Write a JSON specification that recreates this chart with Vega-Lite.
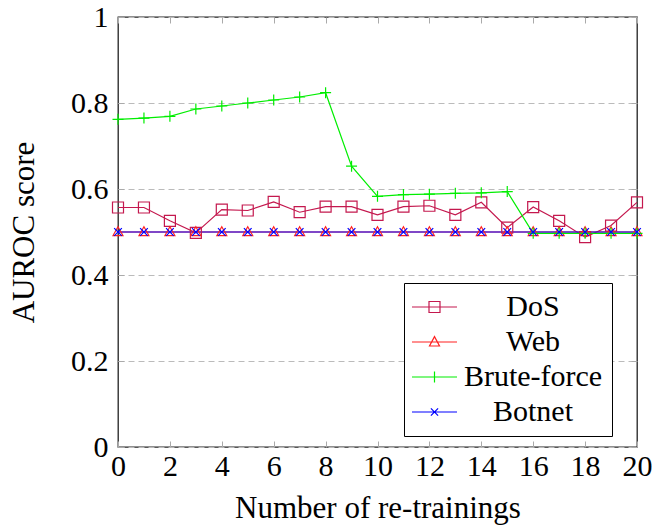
{
  "$schema": "https://vega.github.io/schema/vega-lite/v6.json",
  "width": 519,
  "height": 430,
  "autosize": {"type": "none"},
  "padding": {"left": 118, "top": 17, "right": 15, "bottom": 78},
  "background": "white",
  "config": {
    "font": "Liberation Serif, DejaVu Serif, serif",
    "view": {"stroke": "#222222", "strokeWidth": 1.3},
    "axis": {"labelFont": "Liberation Serif, DejaVu Serif, serif", "titleFont": "Liberation Serif, DejaVu Serif, serif", "labelFontSize": 30, "titleFontSize": 31, "labelColor": "black", "titleColor": "black", "titleFontWeight": "normal", "domain": false, "tickSize": -6, "tickColor": "#aaaaaa", "labelFlush": false},
    "legend": {"labelFont": "Liberation Serif, DejaVu Serif, serif"}
  },
  "data": {"values": [
    {"x":0,"series":"DoS","y":0.557},{"x":1,"series":"DoS","y":0.557},{"x":2,"series":"DoS","y":0.526},{"x":3,"series":"DoS","y":0.498},{"x":4,"series":"DoS","y":0.552},{"x":5,"series":"DoS","y":0.550},{"x":6,"series":"DoS","y":0.570},{"x":7,"series":"DoS","y":0.546},{"x":8,"series":"DoS","y":0.559},{"x":9,"series":"DoS","y":0.559},{"x":10,"series":"DoS","y":0.540},{"x":11,"series":"DoS","y":0.559},{"x":12,"series":"DoS","y":0.561},{"x":13,"series":"DoS","y":0.540},{"x":14,"series":"DoS","y":0.569},{"x":15,"series":"DoS","y":0.510},{"x":16,"series":"DoS","y":0.558},{"x":17,"series":"DoS","y":0.526},{"x":18,"series":"DoS","y":0.488},{"x":19,"series":"DoS","y":0.515},{"x":20,"series":"DoS","y":0.569},
    {"x":0,"series":"Web","y":0.5},{"x":1,"series":"Web","y":0.5},{"x":2,"series":"Web","y":0.5},{"x":3,"series":"Web","y":0.5},{"x":4,"series":"Web","y":0.5},{"x":5,"series":"Web","y":0.5},{"x":6,"series":"Web","y":0.5},{"x":7,"series":"Web","y":0.5},{"x":8,"series":"Web","y":0.5},{"x":9,"series":"Web","y":0.5},{"x":10,"series":"Web","y":0.5},{"x":11,"series":"Web","y":0.5},{"x":12,"series":"Web","y":0.5},{"x":13,"series":"Web","y":0.5},{"x":14,"series":"Web","y":0.5},{"x":15,"series":"Web","y":0.5},{"x":16,"series":"Web","y":0.5},{"x":17,"series":"Web","y":0.5},{"x":18,"series":"Web","y":0.5},{"x":19,"series":"Web","y":0.5},{"x":20,"series":"Web","y":0.5},
    {"x":0,"series":"Brute-force","y":0.762},{"x":1,"series":"Brute-force","y":0.765},{"x":2,"series":"Brute-force","y":0.769},{"x":3,"series":"Brute-force","y":0.786},{"x":4,"series":"Brute-force","y":0.793},{"x":5,"series":"Brute-force","y":0.800},{"x":6,"series":"Brute-force","y":0.807},{"x":7,"series":"Brute-force","y":0.814},{"x":8,"series":"Brute-force","y":0.824},{"x":9,"series":"Brute-force","y":0.653},{"x":10,"series":"Brute-force","y":0.583},{"x":11,"series":"Brute-force","y":0.587},{"x":12,"series":"Brute-force","y":0.588},{"x":13,"series":"Brute-force","y":0.590},{"x":14,"series":"Brute-force","y":0.591},{"x":15,"series":"Brute-force","y":0.594},{"x":16,"series":"Brute-force","y":0.497},{"x":17,"series":"Brute-force","y":0.497},{"x":18,"series":"Brute-force","y":0.497},{"x":19,"series":"Brute-force","y":0.497},{"x":20,"series":"Brute-force","y":0.497},
    {"x":0,"series":"Botnet","y":0.5},{"x":1,"series":"Botnet","y":0.5},{"x":2,"series":"Botnet","y":0.5},{"x":3,"series":"Botnet","y":0.5},{"x":4,"series":"Botnet","y":0.5},{"x":5,"series":"Botnet","y":0.5},{"x":6,"series":"Botnet","y":0.5},{"x":7,"series":"Botnet","y":0.5},{"x":8,"series":"Botnet","y":0.5},{"x":9,"series":"Botnet","y":0.5},{"x":10,"series":"Botnet","y":0.5},{"x":11,"series":"Botnet","y":0.5},{"x":12,"series":"Botnet","y":0.5},{"x":13,"series":"Botnet","y":0.5},{"x":14,"series":"Botnet","y":0.5},{"x":15,"series":"Botnet","y":0.5},{"x":16,"series":"Botnet","y":0.5},{"x":17,"series":"Botnet","y":0.5},{"x":18,"series":"Botnet","y":0.5},{"x":19,"series":"Botnet","y":0.5},{"x":20,"series":"Botnet","y":0.5}
  ]},
  "encoding": {
    "color": {"field": "series", "type": "nominal", "scale": {"domain": ["DoS","Web","Brute-force","Botnet"], "range": ["#c4184e","#ff2020","#00ee00","#0000ff"]}, "legend": null}
  },
  "layer": [
    {"mark": {"type": "line", "strokeWidth": 1.2},
      "encoding": {
        "x": {"field": "x", "type": "quantitative", "scale": {"domain": [0, 20], "nice": false},
          "axis": {"title": "Number of re-trainings", "values": [0,2,4,6,8,10,12,14,16,18,20], "labelPadding": 10, "titlePadding": 12, "grid": false}},
        "y": {"field": "y", "type": "quantitative", "scale": {"domain": [0, 1], "nice": false},
          "axis": {"title": "AUROC score", "values": [0,0.2,0.4,0.6,0.8,1], "format": "~g", "labelPadding": 16, "titlePadding": 30, "grid": true, "gridColor": "#bbbbbb", "gridDash": [6,4], "gridWidth": 1}},
        "detail": {"field": "series"}}},
    {"mark": {"type": "point", "filled": false, "strokeWidth": 1.2, "opacity": 1, "size": 121},
      "encoding": {
        "x": {"field": "x", "type": "quantitative", "scale": {"domain": [0, 20], "nice": false},
          "axis": {"orient": "top", "title": null, "labels": false, "values": [0,2,4,6,8,10,12,14,16,18,20], "grid": false}},
        "y": {"field": "y", "type": "quantitative", "scale": {"domain": [0, 1], "nice": false},
          "axis": {"orient": "right", "title": null, "labels": false, "values": [0,0.2,0.4,0.6,0.8,1], "grid": false}},
        "shape": {"field": "series", "type": "nominal", "legend": null,
        "scale": {"domain": ["DoS","Web","Brute-force","Botnet"], "range": ["square", "M0,-0.95L0.9,0.65H-0.9Z", "M-1,0H1M0,-1V1", "M-0.7,-0.7L0.7,0.7M-0.7,0.7L0.7,-0.7"]}}}},
    {"transform": [{"filter": {"field": "x", "lt": 0}}],
      "mark": {"type": "point", "filled": false, "strokeWidth": 1.2},
      "encoding": {
        "x": {"field": "x", "type": "quantitative", "scale": {"domain": [0, 20], "nice": false}, "axis": null},
        "y": {"field": "y", "type": "quantitative", "scale": {"domain": [0, 1], "nice": false}, "axis": null},
        "shape": {"field": "series", "type": "nominal",
        "scale": {"domain": ["DoS","Web","Brute-force","Botnet"], "range": ["M-4.5,0H4.5M-1.1,-1.1H1.1V1.1H-1.1Z", "M-4.5,0H4.5M0,-1.08L1,0.8H-1Z", "M-4.5,0H4.5M0,-1.1V1.1", "M-4.5,0H4.5M-0.72,-0.72L0.72,0.72M-0.72,0.72L0.72,-0.72"]},
        "legend": {"title": null, "orient": "none", "legendX": 286, "legendY": 266, "padding": 9, "symbolOffset": 6.5, "strokeColor": "black", "fillColor": "white", "symbolSize": 100, "symbolStrokeWidth": 1.2, "symbolFillColor": "transparent", "labelFont": "Liberation Serif, DejaVu Serif, serif", "labelFontSize": 30, "labelColor": "black", "labelAlign": "center", "labelOffset": 83.5, "rowPadding": 5, "labelLimit": 300,
          "encoding": {"symbols": {"stroke": {"value": {"expr": "scale('color', datum.value)"}}, "opacity": {"value": 1}, "strokeOpacity": {"value": 1}}}}}}}
  ],
  "resolve": {"scale": {"shape": "independent"}, "axis": {"x": "independent", "y": "independent"}}
}
